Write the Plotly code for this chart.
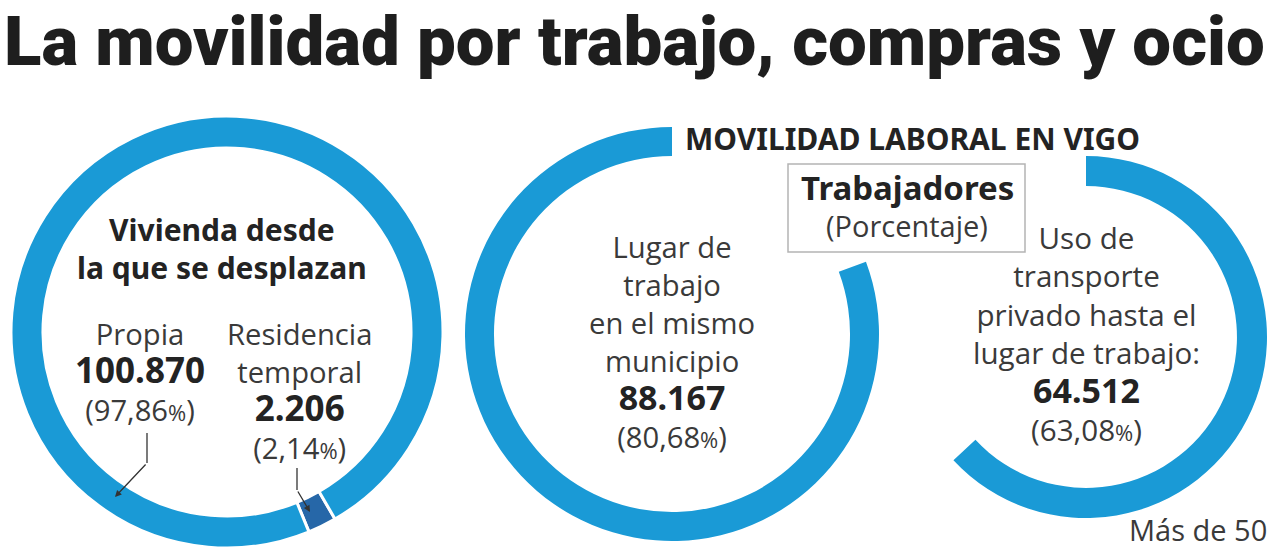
import plotly.graph_objects as go

W, H = 1280, 548

# ---------------- data ----------------
vivienda_labels = ["Residencia temporal", "Propia"]
vivienda_counts = [2206, 100870]
vivienda_pct = [2.14, 97.86]

lugar_labels = ["Otro municipio", "En el mismo municipio"]
lugar_count = 88167
lugar_pct = 80.68

transporte_labels = ["Transporte privado", "Otro"]
transporte_count = 64512
transporte_pct = 63.08

BLUE = "#1a9ad6"
DARK = "#2667a8"
TXT = "#3a3a3a"
BOLD = "#232323"

REG_FONT = "Open Sans, Noto Sans, sans-serif"
BOLD_FONT = "Noto Sans, Open Sans, sans-serif"
TITLE_FONT = "Roboto, Noto Sans, sans-serif"


def es_int(v):
    return f"{v:,}".replace(",", ".")


def b(s, size=34):
    return (f"<span style='font-family:Noto Sans;font-weight:bold;font-size:{size}px;"
            f"fill:{BOLD}'>{s}</span>")


def es_pct(p):
    s = f"{p:.2f}".replace(".", ",")
    return f"({s}<span style='font-size:22px'>%</span>)"


def px_dom(x0, x1, y0, y1):
    return dict(x=[x0 / W, x1 / W], y=[1 - y1 / H, 1 - y0 / H])


fig = go.Figure()

# Left ring: full circle
fig.add_trace(go.Pie(
    values=vivienda_pct, labels=vivienda_labels, sort=False,
    direction="clockwise", rotation=150, hole=0.852,
    marker=dict(colors=[DARK, BLUE], line=dict(color="white", width=3)),
    textinfo="none", showlegend=False,
    domain=px_dom(11, 443, 116, 548),
))

# Center ring (gap first, then the blue arc, clockwise from 12 o'clock)
fig.add_trace(go.Pie(
    values=[100 - lugar_pct, lugar_pct], labels=lugar_labels, sort=False,
    direction="clockwise", rotation=0, hole=0.86,
    marker=dict(colors=["rgba(0,0,0,0)", BLUE], line=dict(width=0)),
    textinfo="none", showlegend=False,
    domain=px_dom(465, 879, 127, 541),
))

# Right ring
fig.add_trace(go.Pie(
    values=[transporte_pct, 100 - transporte_pct], labels=transporte_labels, sort=False,
    direction="clockwise", rotation=0, hole=0.834,
    marker=dict(colors=[BLUE, "rgba(0,0,0,0)"], line=dict(width=0)),
    textinfo="none", showlegend=False,
    domain=px_dom(905, 1267, 156, 518),
))


def txt(s, px, py, size, family=REG_FONT, color=TXT, weight="normal", xanchor="center"):
    fig.add_annotation(
        x=px / W, y=1 - py / H, xref="paper", yref="paper", text=s,
        showarrow=False, xanchor=xanchor, yanchor="middle", align="center",
        font=dict(size=size, family=family, color=color, weight=weight),
    )


# Title
txt("La movilidad por trabajo, compras y ocio", 634, 42, 69, TITLE_FONT, "#1e1e1e", 900)
txt("MOVILIDAD LABORAL EN VIGO", 912, 138, 30, BOLD_FONT, BOLD, "bold")

# Box
fig.add_shape(type="rect", xref="paper", yref="paper",
              x0=788 / W, x1=1025 / W, y0=1 - 252 / H, y1=1 - 164 / H,
              line=dict(color="#b4b4b4", width=1.5), fillcolor="white", layer="below")
txt("Trabajadores", 907, 187, 33, BOLD_FONT, BOLD, "bold")
txt("(Porcentaje)", 907, 225, 29)

# Left ring texts
txt(b("Vivienda desde", 30) + "<br>" + b("la que se desplazan", 30), 222, 248, 29.2)
txt("Propia<br>" + b(es_int(vivienda_counts[1]), 35) + "<br>" + es_pct(vivienda_pct[1]),
    140, 372, 29.2)
txt("Residencia<br>temporal<br>" + b(es_int(vivienda_counts[0]), 35) + "<br>" + es_pct(vivienda_pct[0]),
    299, 391, 29.2)

# Center ring texts
txt("Lugar de<br>trabajo<br>en el mismo<br>municipio<br>" + b(es_int(lugar_count))
    + "<br>" + es_pct(lugar_pct), 672, 342, 29.2)

# Right ring texts
txt("Uso de<br>transporte<br>privado hasta el<br>lugar de trabajo:<br>"
    + b(es_int(transporte_count)) + "<br>" + es_pct(transporte_pct), 1086, 333, 29.6)

txt("Más de 50", 1198, 529, 29)

# Arrows (vertical stem + angled head)
ARR = "#333333"
for (sx, sy0, sy1) in [(147, 433, 463), (297, 468, 490)]:
    fig.add_shape(type="line", xref="paper", yref="paper",
                  x0=sx / W, x1=sx / W, y0=1 - sy0 / H, y1=1 - sy1 / H,
                  line=dict(color=ARR, width=1.3))
for (hx, hy, tx, ty) in [(115, 497, 147, 463), (310, 512, 297, 490)]:
    fig.add_annotation(x=hx / W, y=1 - hy / H, xref="paper", yref="paper",
                       ax=tx - hx, ay=ty - hy, text="", showarrow=True,
                       arrowhead=2, arrowsize=1, arrowwidth=1.3, arrowcolor=ARR)

fig.update_layout(
    width=W, height=H, margin=dict(l=0, r=0, t=0, b=0),
    paper_bgcolor="white", plot_bgcolor="white", showlegend=False,
)

fig.write_html("out.html")
